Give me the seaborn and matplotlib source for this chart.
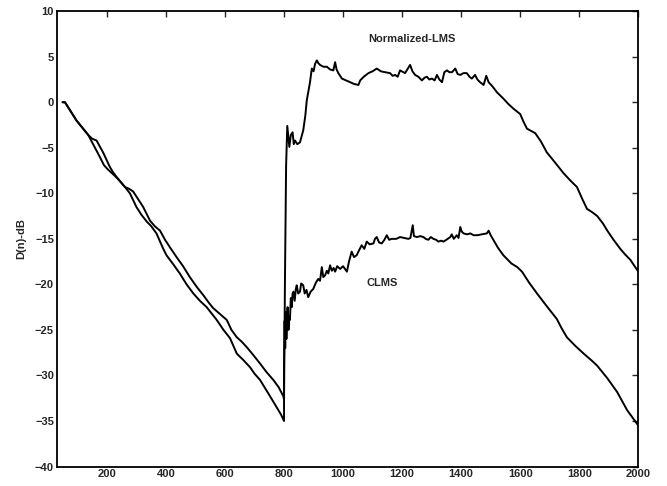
import numpy as np
import pandas as pd
import matplotlib
matplotlib.use("Agg")
import matplotlib.pyplot as plt
import seaborn as sns

# Normalized-LMS learning curve
x_nlms = [50, 58, 97, 137, 150, 165, 187, 210, 221, 240, 261, 275, 289, 305, 323, 346, 362, 380,
          397, 415, 436, 458, 481, 505, 527, 545, 560, 585, 606, 622, 640, 657, 674, 697, 719, 740,
          764, 782, 798, 800, 803, 807, 811, 818, 823, 829, 833, 837, 845, 854, 865, 872, 877, 888,
          894, 900, 905, 911, 916, 922, 933, 945, 956, 967, 973, 978, 984, 996, 1010, 1024, 1038,
          1052, 1058, 1070, 1086, 1100, 1114, 1128, 1142, 1159, 1168, 1176, 1185, 1193, 1210, 1227,
          1235, 1244, 1255, 1267, 1276, 1284, 1292, 1301, 1310, 1318, 1326, 1335, 1343, 1352, 1360,
          1369, 1380, 1388, 1397, 1408, 1419, 1428, 1436, 1447, 1455, 1464, 1476, 1485, 1493, 1507,
          1521, 1543, 1560, 1577, 1600, 1612, 1623, 1651, 1670, 1690, 1720, 1747, 1770, 1792, 1810,
          1826, 1845, 1861, 1880, 1895, 1916, 1939, 1955, 1973, 2000]
d_nlms = [0.0, 0.0, -2.0, -3.6, -4.0, -4.2, -5.5, -7.1, -7.7, -8.5, -9.3, -9.5, -9.8, -10.6, -11.5,
          -13.0, -13.6, -14.1, -15.1, -16.0, -17.0, -18.0, -19.2, -20.3, -21.2, -22.0, -22.6, -23.3,
          -23.9, -25.0, -25.8, -26.3, -26.9, -27.8, -28.7, -29.6, -30.5, -31.3, -32.3, -32.7, -20.0,
          -7.0, -2.6, -4.9, -3.6, -3.3, -4.6, -4.2, -4.6, -4.4, -3.1, -1.5, 0.2, 2.2, 3.7, 3.4, 4.2,
          4.6, 4.3, 4.1, 3.9, 3.9, 3.6, 3.5, 4.4, 3.6, 3.2, 2.6, 2.4, 2.2, 2.0, 1.9, 2.4, 2.8, 3.2,
          3.4, 3.7, 3.4, 3.3, 3.2, 2.9, 3.0, 2.8, 3.5, 3.2, 4.1, 3.4, 3.0, 2.8, 2.4, 2.7, 2.8, 2.5,
          2.6, 2.4, 3.0, 2.5, 2.2, 3.3, 3.5, 3.3, 3.3, 3.7, 3.1, 3.0, 3.2, 3.2, 2.8, 2.6, 3.0, 2.5,
          2.2, 1.9, 2.9, 2.2, 1.7, 1.1, 0.4, -0.2, -0.7, -1.3, -2.2, -2.9, -3.4, -4.3, -5.5, -6.7,
          -7.8, -8.6, -9.3, -10.6, -11.7, -12.1, -12.5, -13.3, -14.1, -15.1, -16.1, -16.7, -17.3,
          -18.6]

# CLMS learning curve
x_clms = [50, 58, 97, 137, 155, 176, 190, 204, 221, 240, 261, 278, 300, 318, 335, 350, 368, 391,
          402, 425, 447, 470, 493, 515, 538, 555, 572, 595, 617, 640, 662, 685, 700, 719, 736, 753,
          775, 790, 800, 800, 802, 804, 806, 808, 810, 812, 815, 818, 820, 823, 826, 829, 832, 836,
          840, 843, 848, 854, 858, 865, 870, 876, 882, 890, 899, 908, 916, 922, 928, 933, 939, 945,
          950, 956, 962, 968, 973, 980, 990, 1000, 1013, 1020, 1029, 1037, 1046, 1055, 1063, 1072,
          1080, 1090, 1103, 1108, 1114, 1122, 1131, 1140, 1148, 1156, 1165, 1180, 1193, 1207, 1221,
          1228, 1236, 1240, 1250, 1262, 1272, 1280, 1289, 1297, 1306, 1315, 1323, 1332, 1340, 1350,
          1363, 1368, 1375, 1385, 1391, 1397, 1402, 1408, 1420, 1431, 1442, 1455, 1470, 1487, 1493,
          1500, 1509, 1525, 1543, 1570, 1590, 1606, 1630, 1657, 1690, 1724, 1740, 1758, 1785, 1815,
          1840, 1860, 1895, 1928, 1945, 1962, 1980, 2000]
d_clms = [0.0, 0.0, -2.0, -3.6, -4.7, -6.0, -6.9, -7.4, -7.9, -8.5, -9.3, -10.0, -11.5, -12.4,
          -13.1, -13.6, -14.4, -16.1, -16.8, -17.8, -18.8, -20.0, -21.0, -21.8, -22.5, -23.2, -23.9,
          -25.0, -25.9, -27.6, -28.3, -29.1, -29.8, -30.5, -31.4, -32.3, -33.5, -34.3, -35.0, -28.5,
          -24.0, -27.0, -23.0, -26.0, -24.3, -22.5, -25.0, -23.5, -23.9, -21.5, -22.5, -21.0, -20.8,
          -21.8, -20.5, -20.1, -21.0, -20.8, -19.9, -20.1, -21.0, -20.6, -21.4, -20.8, -20.5, -19.8,
          -19.4, -19.6, -18.1, -19.2, -19.0, -18.5, -18.8, -17.9, -18.5, -18.2, -18.6, -18.0, -18.3,
          -18.0, -18.6, -17.5, -16.4, -17.0, -16.8, -16.2, -15.7, -16.1, -15.3, -15.6, -15.5, -15.0,
          -14.8, -15.4, -15.5, -15.1, -14.6, -15.1, -15.0, -15.0, -14.8, -14.9, -15.0, -14.9, -13.5,
          -14.7, -14.8, -14.7, -14.8, -15.0, -15.1, -14.8, -15.0, -15.1, -15.3, -15.2, -15.3, -15.1,
          -14.8, -14.5, -15.0, -14.6, -14.9, -13.7, -14.2, -14.4, -14.5, -14.4, -14.6, -14.6, -14.5,
          -14.4, -14.1, -14.6, -15.1, -16.0, -16.8, -17.7, -18.1, -18.6, -19.8, -21.0, -22.4, -23.8,
          -24.8, -25.8, -26.7, -27.6, -28.3, -28.9, -30.3, -31.8, -32.8, -33.8, -34.6, -35.5]

x_ticks = [200, 400, 600, 800, 1000, 1200, 1400, 1600, 1800, 2000]
y_ticks = [-40, -35, -30, -25, -20, -15, -10, -5, 0, 5, 10]

df_nlms = pd.DataFrame({'n': x_nlms, 'D': d_nlms})
df_clms = pd.DataFrame({'n': x_clms, 'D': d_clms})

sns.set_style("white")
plt.rcParams['font.family'] = ['Liberation Sans', 'DejaVu Sans']

fig = plt.figure(figsize=(6.67, 4.86), dpi=100)
ax = fig.add_axes([0.085, 0.04, 0.872, 0.937])

sns.lineplot(data=df_nlms, x='n', y='D', color='black', linewidth=1.4,
             estimator=None, sort=False, ax=ax, legend=False)
sns.lineplot(data=df_clms, x='n', y='D', color='black', linewidth=1.4,
             estimator=None, sort=False, ax=ax, legend=False)

ax.set_xlim(30, 2000)
ax.set_ylim(-40, 10)
ax.set_xticks(x_ticks)
ax.set_yticks(y_ticks)
ax.set_xticklabels([str(t) for t in x_ticks], fontsize=8, fontweight='bold')
ax.set_yticklabels([str(t).replace('-', '\u2212') for t in y_ticks], fontsize=8, fontweight='bold')
ax.tick_params(direction='in', top=True, right=True, length=4, width=1, pad=2)
ax.set_xlabel('')
ax.set_ylabel('D(n)-dB', fontsize=8, fontweight='bold', labelpad=6)
for s in ax.spines.values():
    s.set_linewidth(1.3)
    s.set_color('black')

ax.text(1233, 7.0, 'Normalized-LMS', fontsize=8, fontweight='bold', ha='center', va='center')
ax.text(1131, -19.9, 'CLMS', fontsize=8, fontweight='bold', ha='center', va='center')

fig.savefig('out.png', dpi=100)
